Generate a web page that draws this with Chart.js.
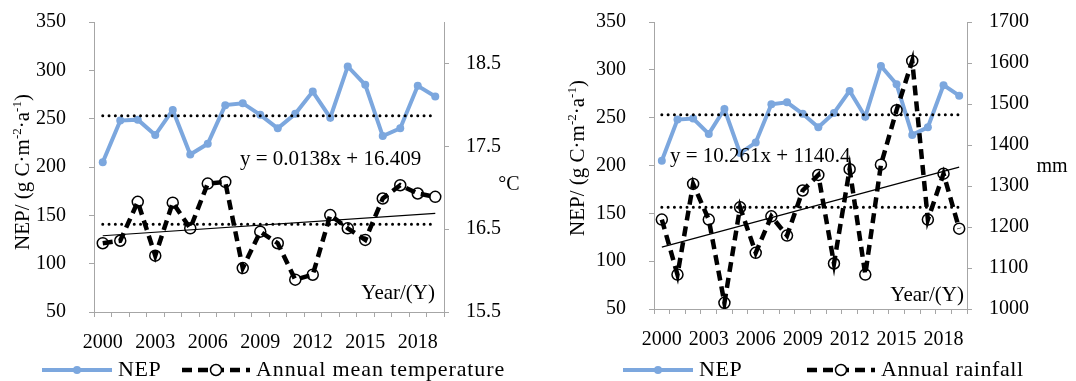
<!DOCTYPE html>
<html>
<head>
<meta charset="utf-8">
<script src="https://cdn.jsdelivr.net/npm/chart.js@4.4.1/dist/chart.umd.min.js"></script>
<style>
  html, body { margin: 0; padding: 0; background: #fff; }
  #wrap { position: relative; width: 1076px; height: 381px; overflow: hidden; }
  canvas { position: absolute; top: 0; }
  #left { left: 0; }
  #right { left: 540px; }
</style>
</head>
<body>
<div id="wrap">
  <canvas id="left" width="540" height="381"></canvas>
  <canvas id="right" width="536" height="381"></canvas>
</div>
<script>
// values
const years = ['2000', '2001', '2002', '2003', '2004', '2005', '2006', '2007', '2008', '2009',
               '2010', '2011', '2012', '2013', '2014', '2015', '2016', '2017', '2018', '2019'];
const nep = [205, 248, 249, 233, 259, 213, 224, 264, 266, 254, 240, 255, 278, 251, 304, 285, 232, 240, 284, 273];
const temperature = [16.33, 16.36, 16.83, 16.18, 16.82, 16.51, 17.05, 17.07, 16.03, 16.47,
                     16.33, 15.89, 15.95, 16.67, 16.51, 16.37, 16.87, 17.03, 16.93, 16.89];
const rainfall = [1218, 1084, 1305, 1218, 1015, 1248, 1137, 1226, 1179, 1289,
                  1327, 1111, 1341, 1084, 1352, 1485, 1605, 1218, 1330, 1196];

const nepMean = 253;
const tempMean = 16.56;
const rainMean = 1248;
const tempTrend = [16.42, 16.69];   // y = 0.0138x + 16.409 at 2000 / 2019
const rainTrend = [1151, 1346];     // y = 10.261x + 1140.4 at 2000 / 2019
const nepTicks = [50, 100, 150, 200, 250, 300, 350];
const tempTicks = [15.5, 16.5, 17.5, 18.5];
const rainTicks = [1000, 1100, 1200, 1300, 1400, 1500, 1600, 1700];

const FONT = 'Liberation Serif';
const AXIS = '#a6a6a6';
const BLUE = 'rgb(124,167,222)';

const titleParts = [['NEP/ (g C\u00b7m', false], ['-2', true], ['\u00b7a', false], ['-1', true], [')', false]];

function drawTitle(ctx, t) {
  const big = t.size + 'px "' + FONT + '"';
  const small = Math.round(t.size * 0.62) + 'px "' + FONT + '"';
  ctx.save();
  ctx.translate(t.x, t.y);
  ctx.rotate(-Math.PI / 2);
  ctx.fillStyle = '#000';
  ctx.textBaseline = 'alphabetic';
  let w = 0;
  titleParts.forEach(([s, sup]) => { ctx.font = sup ? small : big; w += ctx.measureText(s).width; });
  let x = -w / 2;
  const base = t.size * 0.3;
  titleParts.forEach(([s, sup]) => {
    ctx.font = sup ? small : big;
    ctx.fillText(s, x, sup ? base - t.size * 0.38 : base);
    x += ctx.measureText(s).width;
  });
  ctx.restore();
}

const extrasPlugin = {
  id: 'extras',
  afterDraw(chart, args, o) {
    const ctx = chart.ctx;
    drawTitle(ctx, o.title);
    ctx.save();
    ctx.fillStyle = '#000';
    ctx.textBaseline = 'middle';
    o.texts.forEach(t => {
      ctx.font = t.size + 'px "' + FONT + '"';
      ctx.textAlign = t.align || 'left';
      ctx.fillText(t.text, t.x, t.y);
    });
    o.legend.forEach(item => {
      const ds = chart.data.datasets[item.dataset];
      const cx = (item.x0 + item.x1) / 2;
      ctx.strokeStyle = ds.borderColor;
      ctx.lineWidth = ds.borderWidth;
      ctx.setLineDash(ds.borderDash || []);
      ctx.beginPath();
      ctx.moveTo(item.x0, item.y);
      ctx.lineTo(item.x1, item.y);
      ctx.stroke();
      ctx.setLineDash([]);
      ctx.beginPath();
      ctx.arc(cx, item.y, ds.pointRadius, 0, Math.PI * 2);
      if (item.hollow) {
        ctx.fillStyle = '#fff';
        ctx.fill();
        ctx.lineWidth = ds.pointBorderWidth;
        ctx.strokeStyle = ds.pointBorderColor;
        ctx.stroke();
      } else {
        ctx.fillStyle = ds.pointBackgroundColor;
        ctx.fill();
      }
      ctx.fillStyle = '#000';
      ctx.textAlign = 'left';
      ctx.font = item.size + 'px "' + FONT + '"';
      ctx.letterSpacing = item.spacing + 'px';
      ctx.fillText(item.text, item.x1 + 6, item.y);
      ctx.letterSpacing = '0px';
    });
    ctx.restore();
  }
};

// y scales add tick padding to their top/bottom padding; drop it so the plot keeps the figure's height
function fixVertical(width) {
  return s => {
    s.width = width;
    s.paddingTop = 0;
    s.paddingBottom = 0;
  };
}

function makeChart(id, opt) {
  const tickFont = { family: FONT, size: 20 };
  return new Chart(document.getElementById(id), {
    type: 'line',
    data: {
      labels: years,
      datasets: [
        {
          label: 'NEP mean',
          data: [{ x: years[0], y: nepMean }, { x: years[years.length - 1], y: nepMean }],
          yAxisID: 'y', borderColor: '#000', borderWidth: 3, borderDash: [0, 6.3],
          borderCapStyle: 'round', pointRadius: 0, order: 1
        },
        {
          label: opt.name + ' mean',
          data: [{ x: years[0], y: opt.mean }, { x: years[years.length - 1], y: opt.mean }],
          yAxisID: 'y1', borderColor: '#000', borderWidth: 3, borderDash: [0, 6.3],
          borderCapStyle: 'round', pointRadius: 0, order: 2
        },
        {
          label: opt.name,
          data: opt.values,
          yAxisID: 'y1', borderColor: '#000', borderWidth: 4.5, borderDash: [10, 6],
          pointRadius: 5.5, pointBorderWidth: 1.5, pointBorderColor: '#000',
          pointBackgroundColor: 'rgba(255,255,255,0)', order: 3
        },
        {
          label: 'trend',
          data: [{ x: years[0], y: opt.trend[0] }, { x: years[years.length - 1], y: opt.trend[1] }],
          yAxisID: 'y1', borderColor: '#000', borderWidth: 1.2, pointRadius: 0, order: 4
        },
        {
          label: 'NEP',
          data: nep,
          yAxisID: 'y', borderColor: BLUE, backgroundColor: BLUE, borderWidth: 4,
          pointRadius: 4, pointBorderWidth: 0, pointBackgroundColor: BLUE, order: 5
        }
      ]
    },
    options: {
      responsive: false,
      animation: false,
      events: [],
      layout: { padding: { top: 22, left: 0, right: 0, bottom: 0 } },
      plugins: {
        legend: { display: false },
        tooltip: { enabled: false },
        extras: opt.extras
      },
      scales: {
        x: {
          offset: true,
          grid: { offset: true, drawOnChartArea: false, tickLength: 5, color: AXIS },
          border: { color: AXIS },
          ticks: {
            autoSkip: false, maxRotation: 0, minRotation: 0, padding: 14,
            color: '#000', font: tickFont,
            callback: (v, i) => (i % 3 === 0 ? years[i] : '')
          },
          afterFit: s => { s.height = opt.xHeight; }
        },
        y: {
          position: 'left', min: 50, max: 350,
          grid: { drawOnChartArea: false, tickLength: 5, color: AXIS },
          border: { color: AXIS },
          ticks: { padding: 23, color: '#000', font: tickFont, callback: v => String(v) },
          afterBuildTicks: s => { s.ticks = nepTicks.map(v => ({ value: v })); },
          afterFit: fixVertical(opt.yWidth)
        },
        y1: {
          position: 'right', min: opt.min, max: opt.max,
          grid: { drawOnChartArea: false, tickLength: 5, color: AXIS },
          border: { color: AXIS },
          ticks: { padding: 17, color: '#000', font: tickFont, callback: v => v.toFixed(opt.digits) },
          afterBuildTicks: s => { s.ticks = opt.ticks.map(v => ({ value: v })); },
          afterFit: fixVertical(opt.y1Width)
        }
      }
    },
    plugins: [extrasPlugin]
  });
}

makeChart('left', {
  name: 'Annual mean temperature',
  values: temperature, mean: tempMean, trend: tempTrend,
  min: 15.5, max: 19, ticks: tempTicks, digits: 1,
  yWidth: 94, y1Width: 96, xHeight: 69,
  extras: {
    title: { x: 23, y: 172, size: 21 },
    texts: [
      { text: '\u00b0C', x: 509, y: 185, size: 20, align: 'center' },
      { text: 'y = 0.0138x + 16.409', x: 240, y: 159, size: 21 },
      { text: 'Year/(Y)', x: 435, y: 293, size: 21, align: 'right' }
    ],
    legend: [
      { dataset: 4, x0: 42, x1: 112, y: 370, text: 'NEP', size: 22, spacing: 0.6 },
      { dataset: 2, x0: 182, x1: 250, y: 370, text: 'Annual mean temperature', size: 22, spacing: 0.9, hollow: true }
    ]
  }
});

makeChart('right', {
  name: 'Annual rainfall',
  values: rainfall, mean: rainMean, trend: rainTrend,
  min: 1000, max: 1700, ticks: rainTicks, digits: 0,
  yWidth: 114, y1Width: 109, xHeight: 72,
  extras: {
    title: { x: 38, y: 158, size: 21 },
    texts: [
      { text: 'mm', x: 512, y: 167, size: 20, align: 'center' },
      { text: 'y = 10.261x + 1140.4', x: 130, y: 156, size: 21 },
      { text: 'Year/(Y)', x: 424, y: 295, size: 21, align: 'right' }
    ],
    legend: [
      { dataset: 4, x0: 83, x1: 153, y: 370, text: 'NEP', size: 22, spacing: 0.6 },
      { dataset: 2, x0: 267, x1: 335, y: 370, text: 'Annual rainfall', size: 22, spacing: 0.6, hollow: true }
    ]
  }
});
</script>
</body>
</html>
